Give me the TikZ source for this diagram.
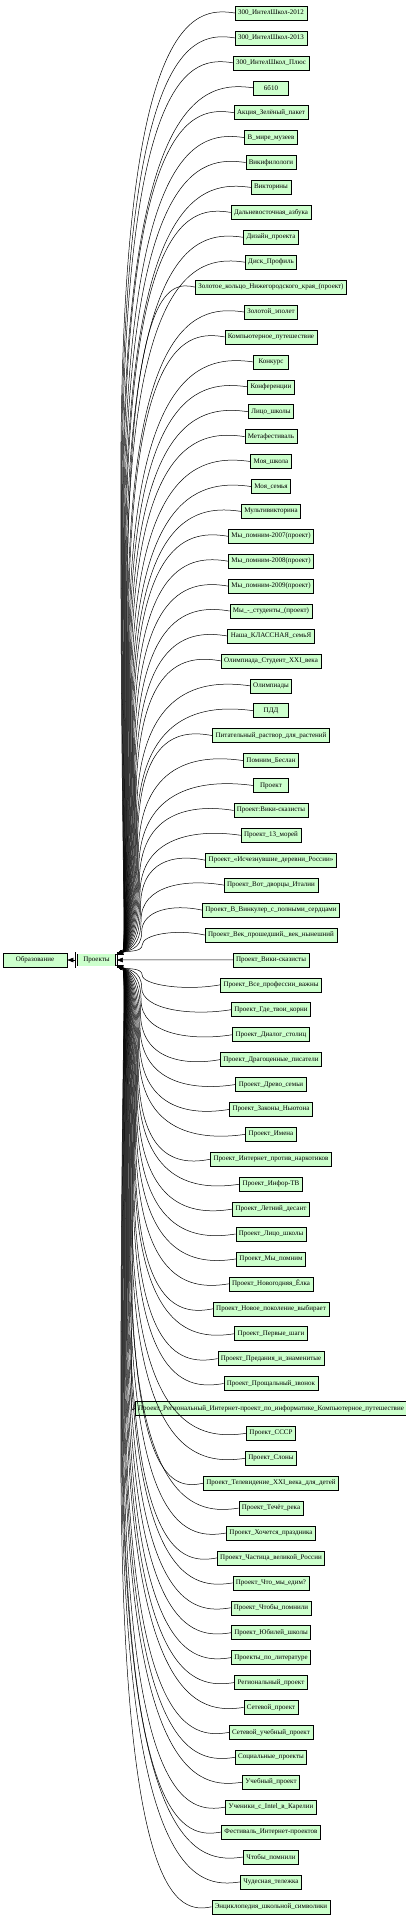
\documentclass[tikz,border=0pt]{standalone}
\usepackage{fontspec}
\setmainfont{Liberation Serif}
\usetikzlibrary{arrows.meta,calc}
\definecolor{leafgreen}{RGB}{204,255,204}
\tikzset{
  leaf/.style={draw, fill=leafgreen, line width=0.6pt, minimum width=35pt,
    minimum height=14pt, inner xsep=3pt, inner ysep=0pt,
    font=\fontsize{7}{8}\selectfont},
  hub/.style={leaf, double, double distance=1.2pt, minimum width=40pt},
  tip/.style={-{Triangle[length=6pt,width=4.5pt]}, line width=0.5pt},
  fan/.code={\pgfmathsetmacro\fanoff{26-22*#1/38}},
  bundle/.style={tip,
    to path={(\tikztostart)
      .. controls ($(\tikztostart)!-10pt!(\tikztostart |- \tikztotarget)!0.35!(\tikztotarget |- \tikztostart)$)
      and ($(\tikztotarget |- \tikztostart)+(\fanoff,0)$)
      .. ($(\tikztotarget |- \tikztostart)!0.5!(\tikztotarget)+(\fanoff,0)$)
      .. controls ($(\tikztotarget |- \tikztostart)!0.9!(\tikztotarget)+(\fanoff,0)$)
      and ($(\tikztotarget)!4pt!(\tikztotarget |- \tikztostart)+(10,0)$)
      .. (\tikztotarget)}}
}
\begin{document}
\begin{tikzpicture}[x=1pt,y=1pt]
      \useasboundingbox (0,0) rectangle (405,-1920);
      \node[leaf, minimum width=64pt] (obr) at (35,-960) {Образование};
      \node[hub] (pr) at (96.5,-960) {Проекты};
      \draw[tip] (pr) -- (obr);
      \begin{scope}[every node/.style=leaf]
      \draw
        (271,-13.0) node (n1){300\_ИнтелШкол-2012}
        (271,-37.9) node (n2){300\_ИнтелШкол-2013}
        (271,-62.8) node (n3){300\_ИнтелШкол\_Плюс}
        (271,-87.8) node (n4){6б10}
        (271,-112.7) node (n5){Акция\_Зелёный\_пакет}
        (271,-137.6) node (n6){В\_мире\_музеев}
        (271,-162.5) node (n7){Викифилологи}
        (271,-187.4) node (n8){Викторины}
        (271,-212.4) node (n9){Дальневосточная\_азбука}
        (271,-237.3) node (n10){Дизайн\_проекта}
        (271,-262.2) node (n11){Диск\_Профиль}
        (271,-287.1) node (n12){Золотое\_кольцо\_Нижегородского\_края\_(проект)}
        (271,-312.0) node (n13){Золотой\_эполет}
        (271,-336.9) node (n14){Компьютерное\_путешествие}
        (271,-361.9) node (n15){Конкурс}
        (271,-386.8) node (n16){Конференции}
        (271,-411.7) node (n17){Лицо\_школы}
        (271,-436.6) node (n18){Метафестиваль}
        (271,-461.5) node (n19){Моя\_школа}
        (271,-486.5) node (n20){Моя\_семья}
        (271,-511.4) node (n21){Мультивикторина}
        (271,-536.3) node (n22){Мы\_помним-2007(проект)}
        (271,-561.2) node (n23){Мы\_помним-2008(проект)}
        (271,-586.1) node (n24){Мы\_помним-2009(проект)}
        (271,-611.0) node (n25){Мы\_-\_студенты\_(проект)}
        (271,-636.0) node (n26){Наша\_КЛАССНАЯ\_семьЯ}
        (271,-660.9) node (n27){Олимпиада\_Студент\_XXI\_века}
        (271,-685.8) node (n28){Олимпиады}
        (271,-710.7) node (n29){ПДД}
        (271,-735.6) node (n30){Питательный\_раствор\_для\_растений}
        (271,-760.6) node (n31){Помним\_Беслан}
        (271,-785.5) node (n32){Проект}
        (271,-810.4) node (n33){Проект:Вики-сказисты}
        (271,-835.3) node (n34){Проект\_13\_морей}
        (271,-860.2) node (n35){Проект\_«Исчезнувшие\_деревни\_России»}
        (271,-885.1) node (n36){Проект\_Вот\_дворцы\_Италии}
        (271,-910.1) node (n37){Проект\_В\_Винкулер\_с\_полными\_сердцами}
        (271,-935.0) node (n38){Проект\_Век\_прошедший,\_век\_нынешний}
        (271,-959.9) node (n39){Проект\_Вики-сказисты}
        (271,-984.8) node (n40){Проект\_Все\_профессии\_важны}
        (271,-1009.7) node (n41){Проект\_Где\_твои\_корни}
        (271,-1034.7) node (n42){Проект\_Диалог\_столиц}
        (271,-1059.6) node (n43){Проект\_Драгоценные\_писатели}
        (271,-1084.5) node (n44){Проект\_Древо\_семьи}
        (271,-1109.4) node (n45){Проект\_Законы\_Ньютона}
        (271,-1134.3) node (n46){Проект\_Имена}
        (271,-1159.2) node (n47){Проект\_Интернет\_против\_наркотиков}
        (271,-1184.2) node (n48){Проект\_Инфор-ТВ}
        (271,-1209.1) node (n49){Проект\_Летний\_десант}
        (271,-1234.0) node (n50){Проект\_Лицо\_школы}
        (271,-1258.9) node (n51){Проект\_Мы\_помним}
        (271,-1283.8) node (n52){Проект\_Новогодняя\_Ёлка}
        (271,-1308.8) node (n53){Проект\_Новое\_поколение\_выбирает}
        (271,-1333.7) node (n54){Проект\_Первые\_шаги}
        (271,-1358.6) node (n55){Проект\_Предания\_и\_знаменитые}
        (271,-1383.5) node (n56){Проект\_Прощальный\_звонок}
        (271,-1408.4) node (n57){Проект\_Региональный\_Интернет-проект\_по\_информатике\_Компьютерное\_путешествие}
        (271,-1433.3) node (n58){Проект\_СССР}
        (271,-1458.3) node (n59){Проект\_Слоны}
        (271,-1483.2) node (n60){Проект\_Телевидение\_XXI\_века\_для\_детей}
        (271,-1508.1) node (n61){Проект\_Течёт\_река}
        (271,-1533.0) node (n62){Проект\_Хочется\_праздника}
        (271,-1557.9) node (n63){Проект\_Частица\_великой\_России}
        (271,-1582.9) node (n64){Проект\_Что\_мы\_едим?}
        (271,-1607.8) node (n65){Проект\_Чтобы\_помнили}
        (271,-1632.7) node (n66){Проект\_Юбилей\_школы}
        (271,-1657.6) node (n67){Проекты\_по\_литературе}
        (271,-1682.5) node (n68){Региональный\_проект}
        (271,-1707.4) node (n69){Сетевой\_проект}
        (271,-1732.4) node (n70){Сетевой\_учебный\_проект}
        (271,-1757.3) node (n71){Социальные\_проекты}
        (271,-1782.2) node (n72){Учебный\_проект}
        (271,-1807.1) node (n73){Ученики\_с\_Intel\_в\_Карелии}
        (271,-1832.0) node (n74){Фестиваль\_Интернет-проектов}
        (271,-1857.0) node (n75){Чтобы\_помнили}
        (271,-1881.9) node (n76){Чудесная\_тележка}
        (271,-1906.8) node (n77){Энциклопедия\_школьной\_символики};
      \end{scope}
      \begin{scope}[bundle]
        \draw[fan=38] (n1.west) to (pr.15);
        \draw[fan=37] (n2.west) to (pr.15);
        \draw[fan=36] (n3.west) to (pr.15);
        \draw[fan=35] (n4.west) to (pr.15);
        \draw[fan=34] (n5.west) to (pr.15);
        \draw[fan=33] (n6.west) to (pr.15);
        \draw[fan=32] (n7.west) to (pr.15);
        \draw[fan=31] (n8.west) to (pr.15);
        \draw[fan=30] (n9.west) to (pr.15);
        \draw[fan=29] (n10.west) to (pr.15);
        \draw[fan=28] (n11.west) to (pr.15);
        \draw[fan=27] (n12.west) to (pr.15);
        \draw[fan=26] (n13.west) to (pr.15);
        \draw[fan=25] (n14.west) to (pr.15);
        \draw[fan=24] (n15.west) to (pr.15);
        \draw[fan=23] (n16.west) to (pr.15);
        \draw[fan=22] (n17.west) to (pr.15);
        \draw[fan=21] (n18.west) to (pr.15);
        \draw[fan=20] (n19.west) to (pr.15);
        \draw[fan=19] (n20.west) to (pr.15);
        \draw[fan=18] (n21.west) to (pr.15);
        \draw[fan=17] (n22.west) to (pr.15);
        \draw[fan=16] (n23.west) to (pr.15);
        \draw[fan=15] (n24.west) to (pr.15);
        \draw[fan=14] (n25.west) to (pr.15);
        \draw[fan=13] (n26.west) to (pr.15);
        \draw[fan=12] (n27.west) to (pr.15);
        \draw[fan=11] (n28.west) to (pr.15);
        \draw[fan=10] (n29.west) to (pr.15);
        \draw[fan=9] (n30.west) to (pr.15);
        \draw[fan=8] (n31.west) to (pr.15);
        \draw[fan=7] (n32.west) to (pr.15);
        \draw[fan=6] (n33.west) to (pr.15);
        \draw[fan=5] (n34.west) to (pr.15);
        \draw[fan=4] (n35.west) to (pr.15);
        \draw[fan=3] (n36.west) to (pr.15);
        \draw[fan=2] (n37.west) to (pr.15);
        \draw[fan=1] (n38.west) to (pr.15);
        \draw (n39) -- (pr);
        \draw[fan=1] (n40.west) to (pr.-15);
        \draw[fan=2] (n41.west) to (pr.-15);
        \draw[fan=3] (n42.west) to (pr.-15);
        \draw[fan=4] (n43.west) to (pr.-15);
        \draw[fan=5] (n44.west) to (pr.-15);
        \draw[fan=6] (n45.west) to (pr.-15);
        \draw[fan=7] (n46.west) to (pr.-15);
        \draw[fan=8] (n47.west) to (pr.-15);
        \draw[fan=9] (n48.west) to (pr.-15);
        \draw[fan=10] (n49.west) to (pr.-15);
        \draw[fan=11] (n50.west) to (pr.-15);
        \draw[fan=12] (n51.west) to (pr.-15);
        \draw[fan=13] (n52.west) to (pr.-15);
        \draw[fan=14] (n53.west) to (pr.-15);
        \draw[fan=15] (n54.west) to (pr.-15);
        \draw[fan=16] (n55.west) to (pr.-15);
        \draw[fan=17] (n56.west) to (pr.-15);
        \draw[fan=18] (n57.west) to (pr.-15);
        \draw[fan=19] (n58.west) to (pr.-15);
        \draw[fan=20] (n59.west) to (pr.-15);
        \draw[fan=21] (n60.west) to (pr.-15);
        \draw[fan=22] (n61.west) to (pr.-15);
        \draw[fan=23] (n62.west) to (pr.-15);
        \draw[fan=24] (n63.west) to (pr.-15);
        \draw[fan=25] (n64.west) to (pr.-15);
        \draw[fan=26] (n65.west) to (pr.-15);
        \draw[fan=27] (n66.west) to (pr.-15);
        \draw[fan=28] (n67.west) to (pr.-15);
        \draw[fan=29] (n68.west) to (pr.-15);
        \draw[fan=30] (n69.west) to (pr.-15);
        \draw[fan=31] (n70.west) to (pr.-15);
        \draw[fan=32] (n71.west) to (pr.-15);
        \draw[fan=33] (n72.west) to (pr.-15);
        \draw[fan=34] (n73.west) to (pr.-15);
        \draw[fan=35] (n74.west) to (pr.-15);
        \draw[fan=36] (n75.west) to (pr.-15);
        \draw[fan=37] (n76.west) to (pr.-15);
        \draw[fan=38] (n77.west) to (pr.-15);
      \end{scope}
    \end{tikzpicture}
\end{document}
